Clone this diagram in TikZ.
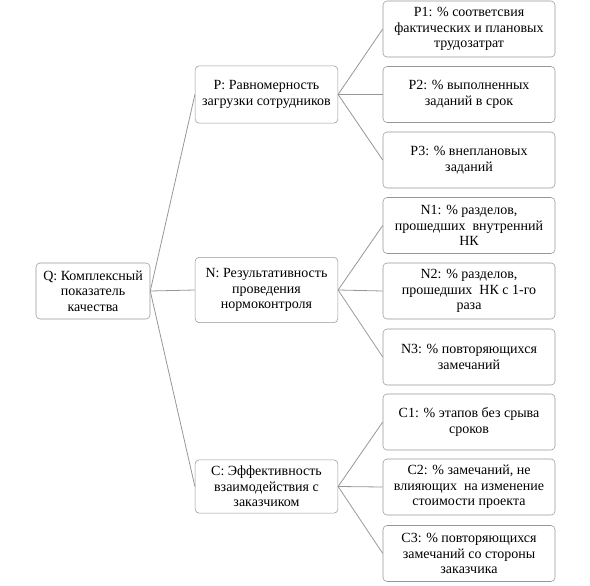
\documentclass[tikz,border=0pt]{standalone}
\usepackage{fontspec}
\setmainfont{Liberation Serif}
\newfontfamily\tnr{Liberation Serif}
\usetikzlibrary{positioning}
\definecolor{rim}{RGB}{150,150,150}

\begin{document}
\begin{tikzpicture}[x=0.75pt,y=-0.75pt,
  blk/.style={draw=rim,rounded corners=3pt,align=center,inner sep=0pt,
    font=\tnr\fontsize{10.5}{11.6}\selectfont},
  top/.style={blk,minimum width=85.5pt,minimum height=42pt},
  mid/.style={blk,minimum width=107pt},
  leaf/.style={blk,minimum width=129pt,minimum height=42pt},
  link/.style={draw=rim,line width=0.6pt}]
\useasboundingbox (0,0) rectangle (590,586);
% root
\node[top] (q) at (93,291) {Q: Комплексный\\показатель\\качества};
% second level
\node[mid,minimum height=43pt] (p) at (266.5,94.5) {P: Равномерность\\загрузки сотрудников};
\node[mid,minimum height=49pt] (n) at (266.5,290) {N: Результативность\\проведения\\нормоконтроля};
\node[mid,minimum height=40pt] (c) at (266.5,486.5) {C: Эффективность\\взаимодействия с\\заказчиком};
% leaves
\node[leaf] (p1) at (469,29) {P1: \% соответсвия\\фактических и плановых\\трудозатрат};
\node[leaf] (p2) at (469,94.5) {P2: \% выполненных\\заданий в срок};
\node[leaf] (p3) at (469,160) {P3: \% внеплановых\\заданий};
\node[leaf] (n1) at (469,225.5) {N1: \% разделов,\\прошедших\ \ внутренний\\НК};
\node[leaf] (n2) at (469,291) {N2: \% разделов,\\прошедших\ \ НК с 1-го\\раза};
\node[leaf] (n3) at (469,357) {N3: \% повторяющихся\\замечаний};
\node[leaf] (c1) at (469,422) {C1: \% этапов без срыва\\сроков};
\node[leaf] (c2) at (469,487) {C2: \% замечаний, не\\влияющих\ \ на изменение\\стоимости проекта};
\node[leaf] (c3) at (469,553.5) {C3: \% повторяющихся\\замечаний со стороны\\заказчика};
% connectors
\foreach \k in {p,n,c} {\path[link] (q.east) -- (\k.west);}
\foreach \k in {1,2,3} {
  \path[link] (p.east) -- (p\k.west);
  \path[link] (n.east) -- (n\k.west);
  \path[link] (c.east) -- (c\k.west);}
\end{tikzpicture}
\end{document}
